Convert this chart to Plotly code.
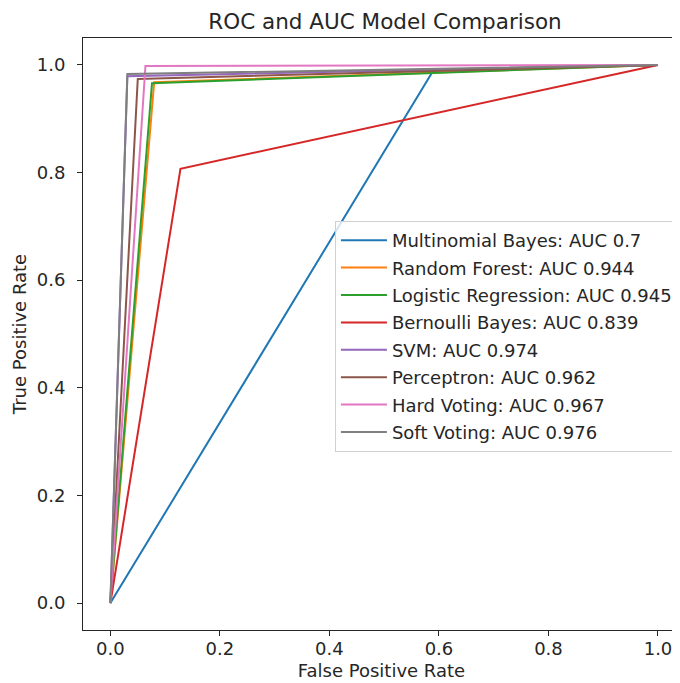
import plotly.graph_objects as go

names = ["Multinomial Bayes", "Random Forest", "Logistic Regression", "Bernoulli Bayes",
         "SVM", "Perceptron", "Hard Voting", "Soft Voting"]
aucs = ["0.7", "0.944", "0.945", "0.839", "0.974", "0.962", "0.967", "0.976"]
fpr_knee = [0.59, 0.080, 0.076, 0.128, 0.031, 0.050, 0.064, 0.031]
tpr_knee = [0.99, 0.968, 0.966, 0.807, 0.979, 0.974, 0.998, 0.983]
colors = ["#1f77b4", "#ff7f0e", "#2ca02c", "#d62728", "#9467bd", "#8c564b", "#e377c2", "#7f7f7f"]
ticks = [0.0, 0.2, 0.4, 0.6, 0.8, 1.0]
tick_labels = ["0.0", "0.2", "0.4", "0.6", "0.8", "1.0"]

font = "DejaVu Sans"
fig = go.Figure()
for i, n in enumerate(names):
    fig.add_trace(go.Scatter(
        x=[0.0, fpr_knee[i], 1.0], y=[0.0, tpr_knee[i], 1.0],
        mode="lines", line=dict(color=colors[i], width=2),
        name=f"{n}: AUC {aucs[i]}", legendgroup=str(i)))

# page body has an 8px margin, so the figure is offset by 8px
W, H = 672, 675
fig.update_layout(
    width=W, height=H,
    margin=dict(l=75, r=0, t=30, b=53),
    paper_bgcolor="white", plot_bgcolor="white",
    font=dict(family=font, size=18, color="#262626"),
    title=dict(text="ROC and AUC Model Comparison", x=(385 - 8) / W, xanchor="center",
               y=1 - 13 / H, yanchor="middle", font=dict(size=21.5, color="#262626")),
    xaxis=dict(range=[-0.05, 1.0402], tickvals=ticks, ticktext=tick_labels,
               showgrid=False, zeroline=False, showline=True, linecolor="#262626", linewidth=1,
               mirror=True, ticks="outside", ticklen=5, tickcolor="#262626", ticklabelstandoff=-3,
               title=dict(text="False Positive Rate", standoff=6, font=dict(size=18))),
    yaxis=dict(range=[-0.05, 1.05], tickvals=ticks, ticktext=tick_labels,
               showgrid=False, zeroline=False, showline=True, linecolor="#262626", linewidth=1,
               ticks="outside", ticklen=5, tickcolor="#262626", ticklabelstandoff=8,
               title=dict(text="True Positive Rate", standoff=5, font=dict(size=18))),
    legend=dict(x=0.422, y=(630 - 221) / 592, xanchor="left", yanchor="top",
                bgcolor="rgba(255,255,255,0.8)", bordercolor="#d0d0d0", borderwidth=1,
                font=dict(size=18, color="#262626"), tracegroupgap=1, itemwidth=46),
)
fig.write_html("out.html")
